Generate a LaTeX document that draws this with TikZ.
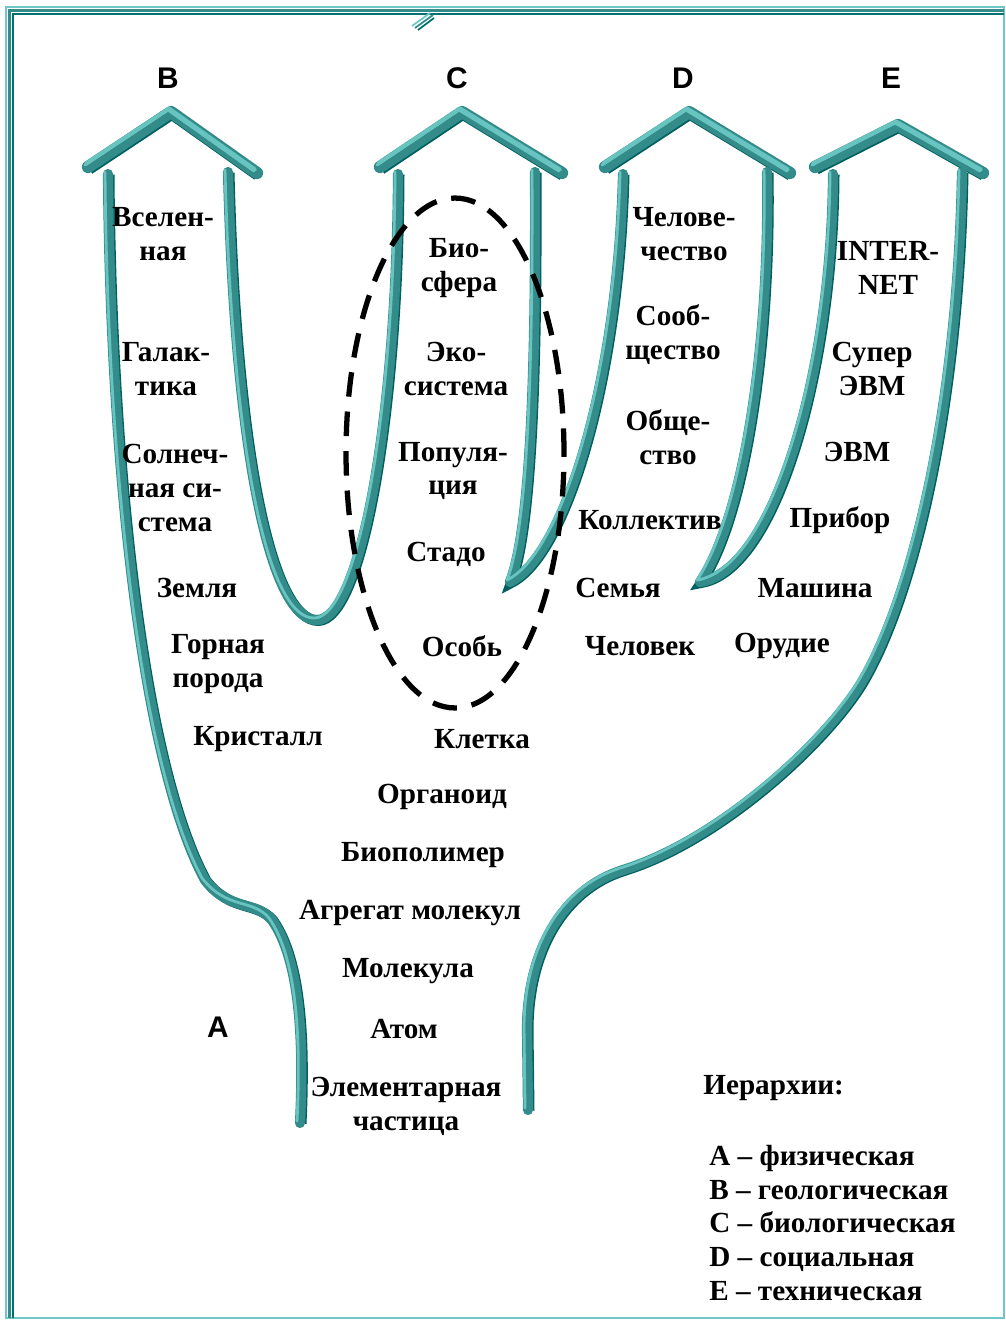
\documentclass[tikz,border=0pt]{standalone}
\usepackage{fontspec}
\setmainfont{Liberation Serif}
\newfontfamily\hsans{Liberation Sans}
\usetikzlibrary{positioning}
\definecolor{tubeDark}{RGB}{0,96,96}
\definecolor{tubeMid}{RGB}{52,140,138}
\definecolor{tubeLight}{RGB}{104,196,192}
\definecolor{frameLight}{RGB}{112,200,198}
\definecolor{frameDark}{RGB}{0,112,112}
\tikzset{
	tube/.style   ={draw=tubeMid, line width=5.8pt, line cap=round, line join=round,
		preaction={draw=tubeDark, line width=6pt, transform canvas={shift={(0.7pt,-0.4pt)}}},
		postaction={draw=tubeLight, line width=1.6pt, transform canvas={shift={(-1.7pt,1.1pt)}}}},
	roof/.style   ={tube, line width=7pt,
		preaction={draw=tubeDark, line width=7pt, transform canvas={shift={(0.5pt,-0.9pt)}}},
		postaction={draw=tubeLight, line width=2.2pt, transform canvas={shift={(-1.1pt,2.0pt)}}}},
	lvl/.style    ={font=\bfseries\fontsize{16.6}{19.3}\selectfont, align=center, inner sep=0pt},
	hier/.style   ={font=\hsans\bfseries\fontsize{17}{20}\selectfont, inner sep=0pt},
	legtext/.style={font=\bfseries\fontsize{16.6}{19.3}\selectfont, align=left, inner sep=0pt},
	ring/.style   ={draw=black, line width=3pt, dash pattern=on 14pt off 8.5pt},
}
\begin{document}
\begin{tikzpicture}[x=0.02cm, y=-0.02cm]
	\useasboundingbox (0,0) rectangle (1006,1321);
	% frame
	\draw[frameLight, line width=1.2pt] (6,1318) -- (6,7) -- (1004,7) -- (1004,1318) -- cycle;
	\draw[tubeMid, line width=1.8pt] (9.5,1318) -- (9.5,10.5) -- (1004,10.5);
	\draw[frameDark, line width=1.2pt] (13,1318) -- (13,14) -- (1004,14);
	\draw[frameLight, line width=1pt] (412,26) -- (430,13);
	\draw[tubeMid, line width=1pt] (415,28) -- (433,15);
	\draw[frameDark, line width=1pt] (418,30) -- (434,18);

	% roofs
	\draw[roof] (88,167) -- (171,112) -- (257,173);
	\draw[roof] (380,167) -- (462,112) -- (562,173);
	\draw[roof] (605,167) -- (689,112) -- (790,173);
	\draw[roof] (815,167) -- (898,125) -- (983,173);

	% tubes
	\draw[tube] (108,174) .. controls (110,450) and (140,760) .. (205,880)
		.. controls (230,912) and (255,900) .. (272,920)
		.. controls (300,960) and (304,1040) .. (300,1123);
	\draw[tube] (228,172) .. controls (235,450) and (270,620) .. (317,620)
		.. controls (360,620) and (397,420) .. (398,174);
	\draw[tube] (535,172) .. controls (536,380) and (530,530) .. (510,582)
		.. controls (565,555) and (618,380) .. (623,174);
	\draw[tube] (767,172) .. controls (770,340) and (745,515) .. (700,582)
		.. controls (775,570) and (832,370) .. (833,174);
	\draw[tube] (962,172) .. controls (958,400) and (915,590) .. (863,680)
		.. controls (828,740) and (720,840) .. (623,870)
		.. controls (563,889) and (527,950) .. (527,1030) -- (528,1110);

	% biological ring
	\draw[ring] (455,453) ellipse [x radius=2.18cm, y radius=5.1cm];

	% hierarchy letters
	\node[hier] (labB) at (168,78) {B};
	\node[hier] (labC) at (457,78) {C};
	\node[hier] (labD) at (683,78) {D};
	\node[hier] (labE) at (891,78) {E};
	\node[hier] (labA) at (218,1027) {A};

	% B
	\node[lvl] (vselen) at (163,234) {Вселен-\\ная};
	\node[lvl] (galakt) at (166,369) {Галак-\\тика};
	\node[lvl] (solnce) at (175,488) {Солнеч-\\ная си-\\стема};
	\node[lvl] (zemlya) at (197,588) {Земля};
	\node[lvl] (gornay) at (218,664) {Горная\\порода};
	\node[lvl] (krist) at (258,739) {Кристалл};

	% C and A
	\node[lvl] (biosf) at (459,268) {Био-\\сфера};
	\node[lvl] (ekosis) at (456,369) {Эко-\\система};
	\node[lvl] (popul) at (453,471) {Популя-\\ция};
	\node[lvl] (stado) at (446,554) {Стадо};
	\node[lvl] (osob) at (462,646) {Особь};
	\node[lvl] (kletka) at (482,739) {Клетка};
	\node[lvl] (organ) at (442,797) {Органоид};
	\node[lvl] (biopol) at (423,855) {Биополимер};
	\node[lvl] (agreg) at (410,913) {Агрегат молекул};
	\node[lvl] (molek) at (408,971) {Молекула};
	\node[lvl] (atom) at (404,1029) {Атом};
	\node[lvl] (elem) at (406,1106) {Элементарная\\частица};

	% D
	\node[lvl] (chelov) at (684,234) {Челове-\\чество};
	\node[lvl] (soob) at (673,335) {Сооб-\\щество};
	\node[lvl] (obsch) at (668,437) {Обще-\\ство};
	\node[lvl] (kollek) at (650,520) {Коллектив};
	\node[lvl] (semya) at (618,588) {Семья};
	\node[lvl] (chel) at (640,646) {Человек};

	% E
	\node[lvl] (inet) at (888,268) {INTER-\\NET};
	\node[lvl] (super) at (872,369) {Супер\\ЭВМ};
	\node[lvl] (evm) at (857,452) {ЭВМ};
	\node[lvl] (pribor) at (840,520) {Прибор};
	\node[lvl] (mash) at (815,588) {Машина};
	\node[lvl] (orud) at (782,646) {Орудие};

	% legend
	\node[legtext, anchor=west] (legtitle) at (703,1088) {Иерархии:};
	\node[legtext, anchor=west] (legbody) at (709,1223) {A – физическая\\B – геологическая\\C – биологическая\\D – социальная\\E – техническая};
\end{tikzpicture}
\end{document}
